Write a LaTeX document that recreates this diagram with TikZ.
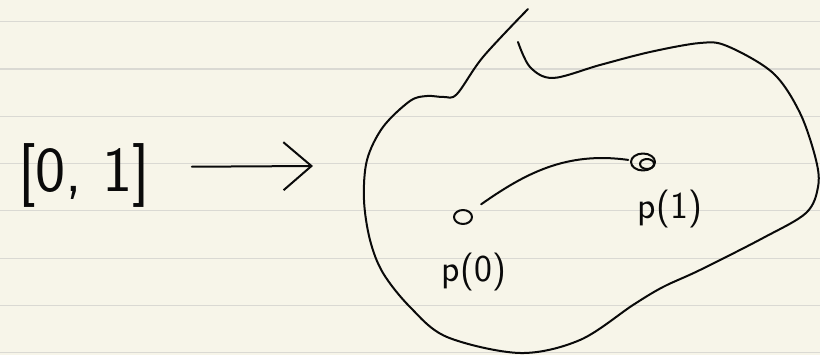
\documentclass[tikz,border=0pt]{standalone}
\usepackage{tikz}
\usetikzlibrary{arrows.meta,calc,shapes.geometric}
\definecolor{NotePaper}{HTML}{F7F5E9}
\definecolor{NoteRule}{HTML}{DAD9D3}
\definecolor{NoteInk}{gray}{0.04}
\tikzset{
    note/diagram/.style={
        x=1pt, y=-1pt,
        draw=NoteInk,
        text=NoteInk,
        line width=2pt,
        line cap=round,
        line join=round,
        every node/.style={inner sep=0pt, outer sep=0pt}
    },
    note/rule/.style={draw=NoteRule, line width=1.2pt},
    note/ink/.style={draw=NoteInk, line width=2pt},
    note/map/.style={
        draw=NoteInk, line width=2pt, shorten <=42pt,
        -{Straight Barb[length=28pt, width=48pt, line width=2pt]}
    },
    note/track/.style={draw=NoteInk, line width=2pt, shorten <=14pt, shorten >=3pt},
    note/bigtext/.style={font=\sffamily\fontsize{64}{64}\selectfont},
    note/label/.style={font=\sffamily\fontsize{38}{38}\selectfont},
    note/point/.style={ellipse, draw=NoteInk, line width=2pt,
        minimum width=18pt, minimum height=14pt}
}

\begin{document}
\begin{tikzpicture}[note/diagram]
    \useasboundingbox (0,0) rectangle (820,355);
    \fill[NotePaper] (0,0) rectangle (820,355);
    \foreach \i in {0,...,7}
        \draw[note/rule] (0,{21.7+47.3*\i}) -- (820,{21.7+47.3*\i});

    % the interval and the map
    \node[note/bigtext] (interval) at (84,176) {[0, 1]};
    \coordinate (mapend) at (313,166);
    \draw[note/map] ([yshift=9pt]interval.east) -- (mapend);

    % the region
    \draw[note/ink] plot[smooth, tension=0.55] coordinates {
        (528,9) (483,57) (457,94) (444,97) (427,96) (410,101)
        (383,127) (367,160) (364,200) (370,240) (383,273) (410,307)
        (447,337) (520,353) (580,340) (633,305) (663,287) (700,270)
        (763,238) (806,213) (818,187) (816,160) (800,113) (773,73)
        (727,46) (700,43) (650,52) (600,65) (553,78) (530,67) (518,42)};

    % the path from p(0) to p(1)
    \node[note/point] (p0) at (463,217) {};
    \node[note/point, minimum width=24pt, minimum height=17pt] (p1) at (643,162) {};
    \draw[note/ink] ($(p1)+(4,2)$) ellipse (7 and 5);
    \draw[note/track] (p0) to[out=35, in=172] (p1);
    \node[note/label] (p0label) at (474,272) {p(0)};
    \node[note/label] (p1label) at (670,209) {p(1)};
\end{tikzpicture}
\end{document}
